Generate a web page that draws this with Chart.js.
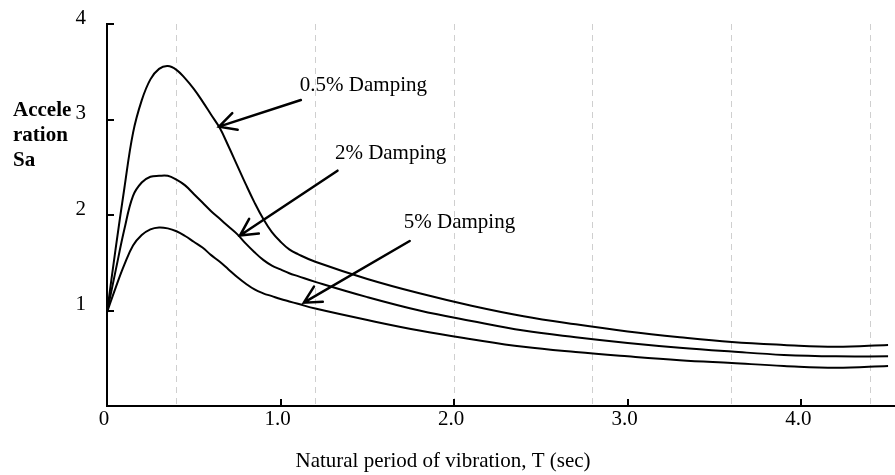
<!DOCTYPE html>
<html>
<head>
<meta charset="utf-8">
<script src="https://cdn.jsdelivr.net/npm/chart.js@4/dist/chart.umd.min.js"></script>
<style>
  html, body { margin: 0; padding: 0; background: #fff; }
  #wrap { width: 895px; height: 475px; }
</style>
</head>
<body>
<div id="wrap"><canvas id="c" width="895" height="475"></canvas></div>
<script>
// ---- Data ----
const periods = [0, 0.05, 0.1, 0.15, 0.2, 0.25, 0.3, 0.35, 0.4, 0.45, 0.5, 0.55, 0.6, 0.65, 0.7, 0.75, 0.8, 0.85, 0.9, 0.95, 1.0, 1.05, 1.1, 1.2, 1.5, 1.8, 2.1, 2.4, 2.7, 3.0, 3.3, 3.6, 3.9, 4.2, 4.5];
const damping05 = [0.98, 1.65, 2.28, 2.86, 3.20, 3.42, 3.53, 3.56, 3.52, 3.43, 3.32, 3.19, 3.05, 2.91, 2.72, 2.52, 2.32, 2.13, 1.96, 1.82, 1.72, 1.64, 1.59, 1.51, 1.33, 1.18, 1.05, 0.94, 0.855, 0.78, 0.72, 0.67, 0.64, 0.62, 0.64];
const damping2  = [0.98, 1.42, 1.85, 2.20, 2.34, 2.40, 2.41, 2.41, 2.37, 2.31, 2.22, 2.13, 2.04, 1.96, 1.88, 1.80, 1.70, 1.61, 1.53, 1.47, 1.43, 1.39, 1.36, 1.30, 1.14, 1.00, 0.89, 0.79, 0.72, 0.66, 0.61, 0.57, 0.535, 0.52, 0.52];
const damping5  = [0.98, 1.24, 1.48, 1.68, 1.79, 1.85, 1.87, 1.86, 1.83, 1.78, 1.72, 1.66, 1.58, 1.51, 1.43, 1.35, 1.28, 1.22, 1.18, 1.15, 1.12, 1.095, 1.07, 1.02, 0.90, 0.79, 0.70, 0.62, 0.565, 0.52, 0.48, 0.45, 0.42, 0.40, 0.42];
const seriesNames = ['0.5% Damping', '2% Damping', '5% Damping'];
const xTickValues = [0, 1, 2, 3, 4];
const xTickLabels = ['0', '1.0', '2.0', '3.0', '4.0'];
const yTickValues = [1, 2, 3, 4];
const yTickLabels = ['1', '2', '3', '4'];
const dashedGridAt = [0.4, 1.2, 2.0, 2.8, 3.6, 4.4];
const xTitle = 'Natural period of vibration, T (sec)';
const yTitleLines = ['Accele', 'ration', 'Sa'];

// ---- Annotation placement (data units) ----
const labelPos = [
  { x: 1.111, y: 3.298 },
  { x: 1.313, y: 2.586 },
  { x: 1.710, y: 1.864 }
];
const arrowPos = [
  { from: { x: 1.117, y: 3.204 }, to: { x: 0.645, y: 2.925 } },
  { from: { x: 1.328, y: 2.464 }, to: { x: 0.766, y: 1.785 } },
  { from: { x: 1.744, y: 1.728 }, to: { x: 1.134, y: 1.082 } }
];

const FONT = "'Liberation Serif', 'Times New Roman', serif";
Chart.defaults.font.family = FONT;
Chart.defaults.font.size = 21;
Chart.defaults.color = '#000';

function toXY(ys) { return periods.map((p, i) => ({ x: p, y: ys[i] })); }

const annotPlugin = {
  id: 'annot',
  afterDraw(chart) {
    const { ctx } = chart;
    const x = chart.scales.x, y = chart.scales.y;
    ctx.save();
    // inside tick marks
    ctx.strokeStyle = '#000';
    ctx.lineWidth = 2;
    ctx.beginPath();
    y.ticks.forEach(t => {
      const py = Math.round(y.getPixelForValue(t.value));
      ctx.moveTo(x.left, py); ctx.lineTo(x.left + 7, py);
    });
    x.ticks.forEach(t => {
      if (t.value === 0) return;
      const px = Math.round(x.getPixelForValue(t.value));
      ctx.moveTo(px, y.bottom); ctx.lineTo(px, y.bottom - 7);
    });
    ctx.stroke();

    // series labels
    ctx.fillStyle = '#000';
    ctx.font = '21px ' + FONT;
    ctx.textAlign = 'left';
    ctx.textBaseline = 'alphabetic';
    seriesNames.forEach((name, i) => {
      ctx.fillText(name, x.getPixelForValue(labelPos[i].x), y.getPixelForValue(labelPos[i].y));
    });

    // arrows
    ctx.lineWidth = 2.5;
    ctx.lineCap = 'round';
    arrowPos.forEach(a => {
      const x1 = x.getPixelForValue(a.from.x), y1 = y.getPixelForValue(a.from.y);
      const x2 = x.getPixelForValue(a.to.x), y2 = y.getPixelForValue(a.to.y);
      const ang = Math.atan2(y1 - y2, x1 - x2);
      const L = 19, spread = 0.48;
      ctx.beginPath();
      ctx.moveTo(x1, y1); ctx.lineTo(x2, y2);
      ctx.moveTo(x2 + L * Math.cos(ang - spread), y2 + L * Math.sin(ang - spread));
      ctx.lineTo(x2, y2);
      ctx.lineTo(x2 + L * Math.cos(ang + spread), y2 + L * Math.sin(ang + spread));
      ctx.stroke();
    });

    // axis titles
    ctx.font = 'bold 21px ' + FONT;
    ctx.textAlign = 'left';
    yTitleLines.forEach((t, i) => ctx.fillText(t, 13, 116 + i * 25));
    ctx.font = '21px ' + FONT;
    ctx.textAlign = 'center';
    ctx.fillText(xTitle, 443, 467);
    ctx.restore();
  }
};

const lineStyle = {
  borderColor: '#000', borderWidth: 2, pointRadius: 0, fill: false,
  tension: 0.4
};

new Chart(document.getElementById('c'), {
  type: 'line',
  data: {
    datasets: [
      Object.assign({ label: seriesNames[0], data: toXY(damping05) }, lineStyle),
      Object.assign({ label: seriesNames[1], data: toXY(damping2) }, lineStyle),
      Object.assign({ label: seriesNames[2], data: toXY(damping5) }, lineStyle)
    ]
  },
  options: {
    responsive: false,
    animation: false,
    devicePixelRatio: 1,
    layout: { padding: { top: 24, right: 0, left: 0, bottom: 0 } },
    plugins: { legend: { display: false }, tooltip: { enabled: false } },
    scales: {
      x: {
        type: 'linear', position: 'bottom', min: 0, max: 4.54,
        afterFit: s => { s.height = 69; s.paddingLeft = 0; s.paddingRight = 0; },
        afterBuildTicks: s => { s.ticks = xTickValues.map(v => ({ value: v })); },
        ticks: { callback: (v, i) => xTickLabels[i], padding: 1, labelOffset: -3, maxRotation: 0, autoSkip: false },
        grid: { display: false, drawTicks: false },
        border: { display: true, color: '#000', width: 2 }
      },
      xg: {
        type: 'linear', position: 'top', min: 0, max: 4.54,
        afterFit: s => { s.height = 0; s.paddingLeft = 0; s.paddingRight = 0; },
        afterBuildTicks: s => { s.ticks = dashedGridAt.map(v => ({ value: v })); },
        ticks: { display: false },
        grid: { display: true, color: '#cfcfcf', lineWidth: 1, drawTicks: false },
        border: { display: false, dash: [6, 5] }
      },
      y: {
        type: 'linear', min: 0, max: 4,
        afterFit: s => { s.width = 107; s.paddingTop = 0; s.paddingBottom = 0; },
        afterBuildTicks: s => { s.ticks = yTickValues.map(v => ({ value: v })); },
        ticks: { callback: (v, i) => yTickLabels[i], padding: 21, labelOffset: -6, autoSkip: false },
        grid: { display: false, drawTicks: false },
        border: { display: true, color: '#000', width: 2 }
      }
    }
  },
  plugins: [annotPlugin]
});
</script>
</body>
</html>
